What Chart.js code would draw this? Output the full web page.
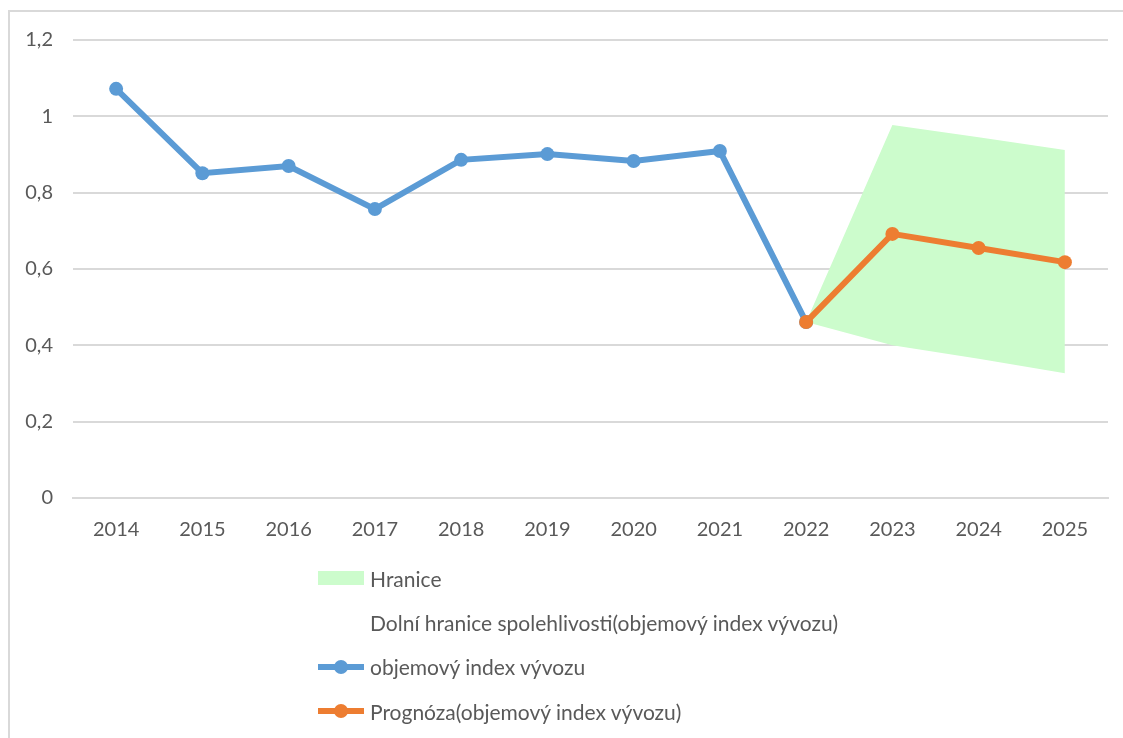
<!DOCTYPE html>
<html>
<head>
<meta charset="utf-8">
<script src="https://cdn.jsdelivr.net/npm/chart.js@4.4.1/dist/chart.umd.min.js"></script>
<style>
  body { margin: 0; background: #fff; font-family: Lato, sans-serif; }
  #frame { position: absolute; left: 8px; top: 10px; width: 1200px; height: 800px;
           border: 2px solid #d9d9d9; box-sizing: border-box; }
  #wrap { position: absolute; left: 0; top: 0; width: 1123px; height: 560px; }
  #legend { position: absolute; left: 318px; top: 556px; }
  .item { height: 44.3px; display: flex; align-items: center; color: #595959; font-size: 21px; }
  .sym { width: 46px; height: 20px; position: relative; margin-right: 6px; }
  .sym .box { position: absolute; left: 0; right: 0; top: 3px; height: 14px; }
  .sym .ln { position: absolute; left: 0; right: 0; top: 7px; height: 6px; }
  .sym .dot { position: absolute; left: 16px; top: 3px; width: 14px; height: 14px; border-radius: 50%; }
</style>
</head>
<body>
<div id="frame"></div>
<div id="wrap"><canvas id="canvas"></canvas></div>
<div id="legend"></div>
<script>
var years = ['2014', '2015', '2016', '2017', '2018', '2019', '2020', '2021', '2022', '2023', '2024', '2025'];
var horni = [null, null, null, null, null, null, null, null, 0.461, 0.977, 0.945, 0.912];
var dolni = [null, null, null, null, null, null, null, null, 0.461, 0.400, 0.365, 0.327];
var index = [1.072, 0.851, 0.870, 0.757, 0.886, 0.901, 0.883, 0.909, 0.461, null, null, null];
var prognoza = [null, null, null, null, null, null, null, null, 0.461, 0.692, 0.655, 0.618];

var blue = '#5b9bd5';
var orange = '#ed7d31';
var green = '#ccfccc';
var grey = '#595959';

var ctx = document.getElementById('canvas').getContext('2d');
var myChart = new Chart(ctx, {
    type: 'line',
    data: {
        labels: years,
        datasets: [{
            label: 'Hranice',
            data: horni,
            fill: 1,
            backgroundColor: green,
            borderColor: 'transparent',
            borderWidth: 0,
            pointRadius: 0,
            order: 4
        }, {
            label: 'Dolní hranice spolehlivosti(objemový index vývozu)',
            data: dolni,
            fill: false,
            borderColor: 'transparent',
            borderWidth: 0,
            pointRadius: 0,
            order: 3
        }, {
            label: 'objemový index vývozu',
            data: index,
            borderColor: blue,
            backgroundColor: blue,
            borderWidth: 6,
            pointRadius: 7,
            pointBorderWidth: 0,
            order: 2
        }, {
            label: 'Prognóza(objemový index vývozu)',
            data: prognoza,
            borderColor: orange,
            backgroundColor: orange,
            borderWidth: 6,
            pointRadius: 7,
            pointBorderWidth: 0,
            order: 1
        }]
    },
    options: {
        responsive: true,
        maintainAspectRatio: false,
        animation: false,
        layout: { padding: { top: 40, right: 15, left: 0, bottom: 0 } },
        plugins: {
            legend: { display: false },
            tooltip: { enabled: false }
        },
        scales: {
            x: {
                offset: true,
                grid: { display: false, drawTicks: false },
                border: { color: '#d9d9d9', width: 2 },
                ticks: { color: grey, font: { family: 'Lato', size: 20 }, padding: 20, maxRotation: 0 },
                afterFit: function(scale) { scale.height = 62; }
            },
            y: {
                min: 0,
                max: 1.2,
                ticks: {
                    stepSize: 0.2,
                    color: grey,
                    font: { family: 'Lato', size: 20 },
                    padding: 20,
                    callback: function(v) { return String(Math.round(v * 10) / 10).replace('.', ','); }
                },
                grid: { color: '#d9d9d9', lineWidth: 2, drawTicks: false },
                border: { display: false },
                afterFit: function(scale) { scale.width = 73; }
            }
        }
    }
});

// legend, one item per row
var legend = document.getElementById('legend');
myChart.data.datasets.forEach(function(ds, i) {
    var item = document.createElement('div');
    item.className = 'item';
    var sym = document.createElement('div');
    sym.className = 'sym';
    if (i === 0) {
        sym.innerHTML = '<div class="box" style="background:' + green + '"></div>';
    } else if (i > 1) {
        sym.innerHTML = '<div class="ln" style="background:' + ds.borderColor + '"></div>' +
            '<div class="dot" style="background:' + ds.borderColor + '"></div>';
    }
    item.appendChild(sym);
    var txt = document.createElement('span');
    txt.textContent = ds.label;
    item.appendChild(txt);
    legend.appendChild(item);
});
</script>
</body>
</html>
